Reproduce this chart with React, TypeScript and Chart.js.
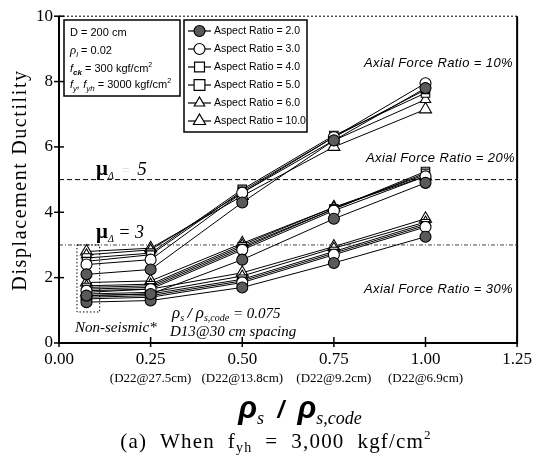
import React, { useEffect, useRef } from "react";
import { Chart, registerables } from "chart.js";

Chart.register(...registerables);

// ---- data ----
const X_VALUES = [0.075, 0.25, 0.5, 0.75, 1.0];
const ASPECT_RATIOS = ["2.0", "3.0", "4.0", "5.0", "6.0", "10.0"];
const X_TICKS = [0, 0.25, 0.5, 0.75, 1.0, 1.25];
const Y_TICKS = [0, 2, 4, 6, 8, 10];
const SPACING_LABELS = ["(D22@27.5cm)", "(D22@13.8cm)", "(D22@9.2cm)", "(D22@6.9cm)"];
const SPACING_AT = [0.25, 0.5, 0.75, 1.0];

// Axial force ratio = 10%
const AR2_AFR10 = [2.1, 2.25, 4.3, 6.2, 7.8];
const AR3_AFR10 = [2.4, 2.55, 4.6, 6.3, 7.95];
const AR4_AFR10 = [2.5, 2.7, 4.65, 6.3, 7.75];
const AR5_AFR10 = [2.6, 2.75, 4.7, 6.35, 7.65];
const AR6_AFR10 = [2.7, 2.85, 4.6, 6.2, 7.45];
const AR10_AFR10 = [2.8, 2.9, 4.5, 6.0, 7.15];
// Axial force ratio = 20%
const AR2_AFR20 = [1.45, 1.5, 2.55, 3.8, 4.9];
const AR3_AFR20 = [1.6, 1.65, 2.85, 4.05, 5.1];
const AR4_AFR20 = [1.65, 1.7, 2.9, 4.1, 5.2];
const AR5_AFR20 = [1.7, 1.75, 2.95, 4.1, 5.25];
const AR6_AFR20 = [1.75, 1.8, 3.0, 4.15, 5.15];
const AR10_AFR20 = [1.85, 1.9, 3.05, 4.15, 5.1];
// Axial force ratio = 30%
const AR2_AFR30 = [1.25, 1.3, 1.7, 2.45, 3.25];
const AR3_AFR30 = [1.35, 1.4, 1.85, 2.7, 3.55];
const AR4_AFR30 = [1.4, 1.45, 1.9, 2.75, 3.6];
const AR5_AFR30 = [1.45, 1.5, 1.95, 2.8, 3.65];
const AR6_AFR30 = [1.5, 1.55, 2.05, 2.9, 3.7];
const AR10_AFR30 = [1.55, 1.65, 2.15, 2.95, 3.8];

const GROUPS = [
  [AR2_AFR10, AR3_AFR10, AR4_AFR10, AR5_AFR10, AR6_AFR10, AR10_AFR10],
  [AR2_AFR20, AR3_AFR20, AR4_AFR20, AR5_AFR20, AR6_AFR20, AR10_AFR20],
  [AR2_AFR30, AR3_AFR30, AR4_AFR30, AR5_AFR30, AR6_AFR30, AR10_AFR30],
];

const MARKERS = [
  { style: "circle", fill: "#5a5a5a", r: 5.5 },
  { style: "circle", fill: "#ffffff", r: 5.5 },
  { style: "rect", fill: "#ffffff", r: 5.5 },
  { style: "rect", fill: "#ffffff", r: 6 },
  { style: "triangle", fill: "#ffffff", r: 6 },
  { style: "triangle", fill: "#ffffff", r: 7 },
];

const SERIF = "'Liberation Serif', 'DejaVu Serif', serif";
const SANS = "'Liberation Sans', Arial, sans-serif";

type Part = { t: string; f: string; dy?: number; c?: string };

function drawRich(ctx: any, x: number, y: number, parts: Part[], align = "left", spacing = 0) {
  ctx.save();
  ctx.letterSpacing = `${spacing}px`;
  let w = 0;
  for (const p of parts) {
    ctx.font = p.f;
    w += ctx.measureText(p.t).width;
  }
  let cx = align === "center" ? x - w / 2 : align === "right" ? x - w : x;
  ctx.textAlign = "left";
  ctx.textBaseline = "alphabetic";
  for (const p of parts) {
    ctx.font = p.f;
    ctx.fillStyle = p.c || "#000";
    ctx.fillText(p.t, cx, y + (p.dy || 0));
    cx += ctx.measureText(p.t).width;
  }
  ctx.restore();
}

function drawMarker(ctx: CanvasRenderingContext2D, m: any, x: number, y: number) {
  ctx.save();
  ctx.fillStyle = m.fill;
  ctx.strokeStyle = "#000";
  ctx.lineWidth = 1.2;
  ctx.beginPath();
  const r = m.r;
  if (m.style === "circle") {
    ctx.arc(x, y, r, 0, Math.PI * 2);
  } else if (m.style === "rect") {
    const s = r * 0.9;
    ctx.rect(x - s, y - s, 2 * s, 2 * s);
  } else {
    ctx.moveTo(x, y - r);
    ctx.lineTo(x + r * 0.87, y + r * 0.5);
    ctx.lineTo(x - r * 0.87, y + r * 0.5);
    ctx.closePath();
  }
  ctx.fill();
  ctx.stroke();
  ctx.restore();
}

const decorPlugin = {
  id: "decor",
  beforeDatasetsDraw(chart: any) {
    const { ctx, chartArea: a, scales } = chart;
    const xs = scales.x, ys = scales.y;
    ctx.save();
    ctx.strokeStyle = "#000";
    ctx.lineWidth = 1;
    ctx.setLineDash([5, 3]);
    const y5 = ys.getPixelForValue(5);
    ctx.beginPath(); ctx.moveTo(a.left, y5); ctx.lineTo(a.right, y5); ctx.stroke();
    ctx.strokeStyle = "#444";
    ctx.setLineDash([4, 2, 1, 2]);
    const y3 = ys.getPixelForValue(3);
    ctx.beginPath(); ctx.moveTo(a.left, y3); ctx.lineTo(a.right, y3); ctx.stroke();
    ctx.strokeStyle = "#000";
    ctx.setLineDash([1.5, 2]);
    const bx0 = xs.getPixelForValue(0.049), bx1 = xs.getPixelForValue(0.111);
    const by0 = ys.getPixelForValue(3.0), by1 = ys.getPixelForValue(0.95);
    ctx.strokeRect(bx0, by0, bx1 - bx0, by1 - by0);
    ctx.restore();
  },
  afterDraw(chart: any) {
    const { ctx, chartArea: a, scales } = chart;
    const xs = scales.x, ys = scales.y;
    ctx.save();
    // frame
    ctx.strokeStyle = "#000";
    ctx.lineWidth = 2;
    ctx.beginPath();
    ctx.moveTo(a.left, a.top); ctx.lineTo(a.left, a.bottom); ctx.lineTo(a.right, a.bottom); ctx.lineTo(a.right, a.top);
    ctx.stroke();
    ctx.lineWidth = 1;
    ctx.setLineDash([2, 2]);
    ctx.beginPath(); ctx.moveTo(a.left, a.top); ctx.lineTo(a.right, a.top); ctx.stroke();
    ctx.setLineDash([]);
    // ticks
    ctx.lineWidth = 1.5;
    for (const v of Y_TICKS) {
      const py = ys.getPixelForValue(v);
      ctx.beginPath(); ctx.moveTo(a.left - 5, py); ctx.lineTo(a.left + 5, py); ctx.stroke();
    }
    for (const v of X_TICKS) {
      const px = xs.getPixelForValue(v);
      ctx.beginPath(); ctx.moveTo(px, a.bottom - 6); ctx.lineTo(px, a.bottom + 4); ctx.stroke();
    }

    // info box
    ctx.lineWidth = 1.5;
    ctx.strokeRect(64, 20, 116, 76);
    const f11 = `11px ${SANS}`;
    const fi11 = `italic 11px ${SANS}`;
    const fs8 = `italic 8px ${SANS}`;
    drawRich(ctx, 70, 36, [{ t: "D = 200 cm", f: f11 }]);
    drawRich(ctx, 70, 54, [{ t: "ρ", f: `italic 13px ${SERIF}` }, { t: "l", f: fs8, dy: 3 }, { t: " = 0.02", f: f11 }]);
    drawRich(ctx, 70, 72, [{ t: "f", f: fi11 }, { t: "ck", f: `bold italic 8px ${SANS}`, dy: 3 }, { t: " = 300 kgf/cm", f: f11 }, { t: "2", f: `7px ${SANS}`, dy: -5 }]);
    drawRich(ctx, 70, 88, [{ t: "f", f: fi11 }, { t: "y", f: fs8, dy: 3 }, { t: ", f", f: fi11 }, { t: "yh", f: fs8, dy: 3 }, { t: " = 3000 kgf/cm", f: f11 }, { t: "2", f: `7px ${SANS}`, dy: -5 }]);

    // legend box
    ctx.lineWidth = 1.5;
    ctx.strokeRect(184, 20, 123, 112);
    for (let i = 0; i < ASPECT_RATIOS.length; i++) {
      const ly = 31 + i * 18;
      ctx.lineWidth = 1.2;
      ctx.beginPath(); ctx.moveTo(188, ly); ctx.lineTo(211, ly); ctx.stroke();
      drawMarker(ctx, MARKERS[i], 199.5, ly);
      ctx.fillStyle = "#000";
      ctx.font = `10.5px ${SANS}`;
      ctx.textAlign = "left";
      ctx.textBaseline = "middle";
      ctx.fillText(`Aspect Ratio = ${ASPECT_RATIOS[i]}`, 214, ly);
    }

    // mu labels
    const fmu = `bold 21px ${SERIF}`;
    const fdel = `italic 10px ${SERIF}`;
    drawRich(ctx, 96, 175, [{ t: "μ", f: fmu }, { t: "Δ", f: fdel, dy: 4 }, { t: "  =  ", f: `italic 14px ${SERIF}`, c: "#d8d8d8" }, { t: "5", f: `italic 19px ${SERIF}` }]);
    drawRich(ctx, 96, 238, [{ t: "μ", f: fmu }, { t: "Δ", f: fdel, dy: 4 }, { t: " = 3", f: `italic 18px ${SERIF}` }]);

    // axial force labels
    ctx.save();
    ctx.fillStyle = "#000";
    ctx.textAlign = "right";
    ctx.textBaseline = "alphabetic";
    ctx.letterSpacing = "0.4px";
    ctx.font = `italic 13px ${SANS}`;
    ctx.fillText("Axial Force Ratio = 10%", 513, 67);
    ctx.fillText("Axial Force Ratio = 20%", 515, 162);
    ctx.fillText("Axial Force Ratio = 30%", 513, 293);
    ctx.restore();

    // non-seismic annotations
    drawRich(ctx, 75, 332, [{ t: "Non-seismic*", f: `italic 15px ${SERIF}` }]);
    drawRich(ctx, 172, 318, [
      { t: "ρ", f: `italic 17px ${SERIF}` }, { t: "s", f: `italic 10px ${SERIF}`, dy: 3 },
      { t: " / ", f: `bold italic 15px ${SERIF}` },
      { t: "ρ", f: `italic 17px ${SERIF}` }, { t: "s,code", f: `italic 10px ${SERIF}`, dy: 3 },
      { t: " = 0.075", f: `italic 15px ${SERIF}` },
    ]);
    drawRich(ctx, 170, 336, [{ t: "D13@30 cm spacing", f: `italic 15px ${SERIF}` }]);

    // rebar spacing labels
    ctx.font = `13px ${SERIF}`;
    ctx.fillStyle = "#000";
    ctx.textAlign = "center";
    ctx.textBaseline = "middle";
    for (let i = 0; i < SPACING_LABELS.length; i++) {
      ctx.fillText(SPACING_LABELS[i], xs.getPixelForValue(SPACING_AT[i]), 379);
    }

    // x axis title
    drawRich(ctx, 300, 418, [
      { t: "ρ", f: `bold italic 31px ${SANS}` }, { t: "s", f: `italic 18px ${SERIF}`, dy: 6 },
      { t: "  /  ", f: `bold italic 24px ${SANS}` },
      { t: "ρ", f: `bold italic 31px ${SANS}` }, { t: "s,code", f: `italic 18px ${SERIF}`, dy: 6 },
    ], "center");

    // caption
    drawRich(ctx, 276, 448, [
      { t: "(a)  When  f", f: `21px ${SERIF}` }, { t: "yh", f: `14px ${SERIF}`, dy: 4 },
      { t: "  =  3,000  kgf/cm", f: `21px ${SERIF}` }, { t: "2", f: `13px ${SERIF}`, dy: -9 },
    ], "center", 1.2);

    // y axis title
    ctx.save();
    ctx.translate(21, 180);
    ctx.rotate(-Math.PI / 2);
    ctx.letterSpacing = "1.6px";
    ctx.font = `20px ${SERIF}`;
    ctx.textAlign = "center";
    ctx.textBaseline = "middle";
    ctx.fillStyle = "#000";
    ctx.fillText("Displacement Ductility", 0, 0);
    ctx.restore();

    ctx.restore();
  },
};

export default function App() {
  const ref = useRef<HTMLCanvasElement>(null);
  useEffect(() => {
    document.body.style.margin = "0";
    const datasets: any[] = [];
    GROUPS.forEach((group, gi) => {
      group.forEach((vals, ai) => {
        const m = MARKERS[ai];
        datasets.push({
          label: `AR ${ASPECT_RATIOS[ai]} / AFR ${(gi + 1) * 10}%`,
          data: X_VALUES.map((x, k) => ({ x, y: vals[k] })),
          borderColor: "#000",
          borderWidth: 1,
          pointStyle: m.style,
          pointRadius: m.r,
          pointBackgroundColor: m.fill,
          pointBorderColor: "#000",
          pointBorderWidth: 1.1,
          tension: 0,
        });
      });
    });
    const chart = new Chart(ref.current!, {
      type: "line",
      data: { datasets },
      options: {
        animation: false,
        responsive: false,
        devicePixelRatio: 1,
        layout: { padding: { left: 0, right: 18, top: 16, bottom: 0 } },
        plugins: { legend: { display: false }, tooltip: { enabled: false } },
        scales: {
          x: {
            type: "linear",
            min: 0,
            max: 1.25,
            afterFit: (s: any) => { s.height = 457 - 343; },
            afterBuildTicks: (s: any) => { s.ticks = X_TICKS.map((v) => ({ value: v })); },
            grid: { display: false, drawTicks: false },
            border: { display: false },
            ticks: {
              padding: 6,
              color: "#000",
              font: { family: SERIF, size: 17 },
              callback: (v: any) => Number(v).toFixed(2),
              maxRotation: 0,
            },
          },
          y: {
            type: "linear",
            min: 0,
            max: 10,
            afterFit: (s: any) => { s.width = 59; },
            afterBuildTicks: (s: any) => { s.ticks = Y_TICKS.map((v) => ({ value: v })); },
            grid: { display: false, drawTicks: false },
            border: { display: false },
            ticks: {
              padding: 6,
              color: "#000",
              font: { family: SERIF, size: 17 },
            },
          },
        },
      },
      plugins: [decorPlugin],
    });
    return () => chart.destroy();
  }, []);
  return (
    <div style={{ position: "absolute", left: 0, top: 0, width: 538, height: 457, background: "#fff" }}>
      <canvas ref={ref} width={538} height={457} />
    </div>
  );
}
